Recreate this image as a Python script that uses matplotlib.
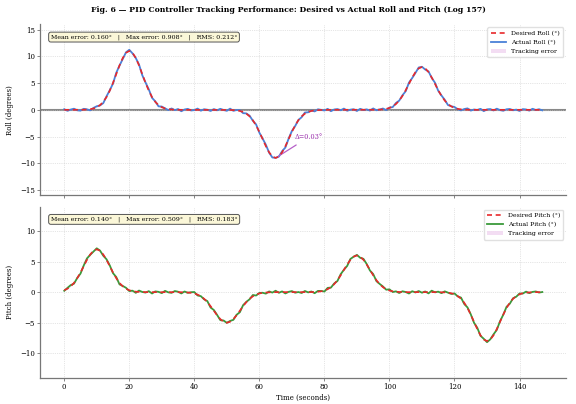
import numpy as np
import matplotlib.pyplot as plt

plt.rcParams['font.family'] = ['DejaVu Serif']

# time axis, one sample per second
t = np.arange(0, 148)

# desired roll (degrees)
roll_desired = [
    0.0, 0.0, 0.0, 0.0, 0.0, 0.0, 0.02, 0.06, 0.12, 0.25,
    0.48, 0.88, 1.49, 2.38, 3.58, 5.04, 6.67, 8.31, 9.70, 10.66,
    11.0, 10.66, 9.70, 8.31, 6.67, 5.04, 3.58, 2.38, 1.49, 0.88,
    0.48, 0.25, 0.12, 0.06, 0.02, 0.0, 0.0, 0.0, 0.0, 0.0,
    0.0, 0.0, 0.0, 0.0, 0.0, 0.0, 0.0, 0.0, 0.0, 0.0,
    0.0, -0.02, -0.05, -0.10, -0.21, -0.40, -0.72, -1.22, -1.94, -2.93,
    -4.12, -5.46, -6.80, -7.94, -8.72, -9.0, -8.72, -7.94, -6.80, -5.46,
    -4.12, -2.93, -1.94, -1.22, -0.72, -0.40, -0.21, -0.10, -0.05, -0.02,
    0.0, 0.0, 0.0, 0.0, 0.0, 0.0, 0.0, 0.0, 0.0, 0.0,
    0.0, 0.0, 0.0, 0.0, 0.0, 0.0, 0.02, 0.04, 0.09, 0.18,
    0.35, 0.64, 1.08, 1.73, 2.60, 3.67, 4.85, 6.04, 7.06, 7.75,
    8.0, 7.75, 7.06, 6.04, 4.85, 3.67, 2.60, 1.73, 1.08, 0.64,
    0.35, 0.18, 0.09, 0.04, 0.02, 0.0, 0.0, 0.0, 0.0, 0.0,
    0.0, 0.0, 0.0, 0.0, 0.0, 0.0, 0.0, 0.0, 0.0, 0.0,
    0.0, 0.0, 0.0, 0.0, 0.0, 0.0, 0.0, 0.0,
]

# actual roll minus desired roll
roll_error = [
    0.12, -0.18, 0.05, 0.21, -0.09, -0.15, 0.17, 0.03, -0.22, 0.11,
    0.19, -0.06, -0.24, 0.14, 0.08, -0.13, 0.26, -0.04, -0.19, 0.10,
    0.22, -0.11, -0.02, 0.16, -0.20, 0.07, 0.25, -0.14, 0.09, -0.23,
    0.13, 0.04, -0.17, 0.20, -0.08, 0.15, -0.26, 0.06, 0.18, -0.12,
    -0.05, 0.23, -0.16, 0.11, 0.02, -0.21, 0.14, -0.09, 0.19, -0.03,
    -0.18, 0.24, -0.13, 0.07, 0.16, -0.22, 0.05, 0.12, -0.10, 0.20,
    -0.15, 0.09, 0.27, -0.07, -0.19, 0.03, -0.02, 0.21, -0.24, 0.08,
    0.17, -0.11, 0.04, -0.16, 0.22, -0.06, 0.10, -0.20, 0.15, 0.01,
    -0.12, 0.18, -0.25, 0.06, 0.14, -0.08, 0.23, -0.17, 0.03, 0.11,
    -0.21, 0.19, -0.04, 0.09, -0.14, 0.26, -0.10, 0.02, 0.16, -0.23,
    0.07, -0.13, 0.20, -0.01, 0.12, -0.18, 0.24, -0.09, -0.15, 0.17,
    0.05, -0.22, 0.13, -0.06, 0.21, -0.11, 0.08, 0.15, -0.19, 0.03,
    0.18, -0.07, -0.20, 0.11, 0.25, -0.14, 0.06, -0.02, 0.19, -0.24,
    0.09, 0.14, -0.12, 0.22, -0.05, -0.17, 0.10, 0.16, -0.08, 0.04,
    -0.21, 0.13, 0.07, -0.15, 0.20, -0.03, 0.11, -0.09,
]

# desired pitch (degrees)
pitch_desired = [
    0.31, 0.56, 0.95, 1.51, 2.28, 3.21, 4.25, 5.29, 6.17, 6.78,
    7.0, 6.78, 6.17, 5.29, 4.25, 3.21, 2.28, 1.51, 0.95, 0.56,
    0.31, 0.16, 0.08, 0.04, 0.02, 0.0, 0.0, 0.0, 0.0, 0.0,
    0.0, 0.0, 0.0, 0.0, 0.0, 0.0, -0.01, -0.03, -0.06, -0.11,
    -0.22, -0.40, -0.68, -1.08, -1.63, -2.29, -3.03, -3.78, -4.41, -4.84,
    -5.0, -4.84, -4.41, -3.78, -3.03, -2.29, -1.63, -1.08, -0.68, -0.40,
    -0.22, -0.11, -0.06, -0.03, -0.01, 0.0, 0.0, 0.0, 0.0, 0.0,
    0.0, 0.0, 0.0, 0.0, 0.0, 0.0, 0.01, 0.03, 0.07, 0.14,
    0.26, 0.48, 0.81, 1.30, 1.95, 2.75, 3.64, 4.53, 5.29, 5.81,
    6.0, 5.81, 5.29, 4.53, 3.64, 2.75, 1.95, 1.30, 0.81, 0.48,
    0.26, 0.14, 0.07, 0.03, 0.01, 0.0, 0.0, 0.0, 0.0, 0.0,
    0.0, 0.0, 0.0, 0.0, 0.0, 0.0, -0.02, -0.04, -0.09, -0.18,
    -0.35, -0.64, -1.08, -1.73, -2.60, -3.67, -4.85, -6.04, -7.06, -7.75,
    -8.0, -7.75, -7.06, -6.04, -4.85, -3.67, -2.60, -1.73, -1.08, -0.64,
    -0.35, -0.18, -0.09, -0.04, -0.02, 0.0, 0.0, 0.0,
]

# actual pitch minus desired pitch
pitch_error = [
    -0.09, 0.14, 0.20, -0.12, 0.04, -0.18, 0.11, 0.23, -0.06, -0.15,
    0.17, 0.02, -0.21, 0.09, 0.13, -0.10, 0.19, -0.24, 0.06, 0.15,
    -0.13, 0.08, -0.19, 0.22, 0.01, -0.07, 0.16, -0.22, 0.12, 0.05,
    -0.16, 0.21, -0.03, -0.11, 0.18, 0.07, -0.20, 0.14, -0.05, 0.10,
    0.24, -0.14, 0.03, -0.09, 0.17, -0.23, 0.11, 0.06, -0.17, 0.20,
    -0.02, 0.13, -0.12, 0.08, -0.25, 0.16, 0.04, -0.08, 0.21, -0.15,
    0.09, 0.01, -0.18, 0.15, -0.06, 0.23, -0.11, 0.12, -0.21, 0.05,
    0.17, -0.09, 0.02, -0.14, 0.19, -0.04, 0.10, -0.20, 0.13, 0.06,
    -0.16, 0.22, -0.07, 0.11, -0.13, 0.18, 0.03, -0.24, 0.14, -0.01,
    0.09, -0.19, 0.16, 0.07, -0.10, 0.21, -0.15, 0.04, 0.12, -0.08,
    0.20, -0.12, 0.06, -0.17, 0.13, 0.02, -0.22, 0.15, -0.05, 0.18,
    -0.09, 0.11, -0.20, 0.24, -0.03, 0.08, -0.14, 0.17, 0.01, -0.11,
    0.14, -0.06, 0.19, -0.21, 0.10, 0.05, -0.15, 0.22, -0.08, 0.12,
    -0.18, 0.03, 0.16, -0.13, 0.09, -0.02, 0.20, -0.16, 0.07, -0.10,
    0.13, -0.05, 0.18, -0.12, 0.06, 0.11, -0.07, 0.02,
]

roll_stats = "Mean error: 0.160°   |   Max error: 0.908°   |   RMS: 0.212°"
pitch_stats = "Mean error: 0.140°   |   Max error: 0.509°   |   RMS: 0.183°"
roll_note = "Δ=0.03°"

roll_actual = np.array(roll_desired) + np.array(roll_error)
pitch_actual = np.array(pitch_desired) + np.array(pitch_error)

fig, (ax1, ax2) = plt.subplots(2, 1, figsize=(5.76, 4.04), dpi=100, sharex=True)
fig.subplots_adjust(left=0.07, right=0.983, top=0.94, bottom=0.065, hspace=0.065)

fs = 5.0
panels = [
    (ax1, roll_desired, roll_actual, "Roll", "#4a80d8", roll_stats, (-16, 16), [-15, -10, -5, 0, 5, 10, 15]),
    (ax2, pitch_desired, pitch_actual, "Pitch", "#3a9a3a", pitch_stats, (-14, 14), [-10, -5, 0, 5, 10]),
]
for ax, des, act, name, col, stats, ylim, yt in panels:
    if name == "Roll":
        ax.axhline(0, color="#888888", lw=1.5, zorder=1)
    ax.fill_between(t, des, act, color="plum", alpha=0.35, lw=0, label="Tracking error", zorder=2)
    ax.plot(t, act, color=col, lw=1.3, label=f"Actual {name} (°)", zorder=3)
    ax.plot(t, des, color="#e8292b", lw=1.2, ls=(0, (3, 2.2)), label=f"Desired {name} (°)", zorder=4)
    ax.set_ylim(*ylim)
    ax.set_yticks(yt)
    ax.set_ylabel(f"{name} (degrees)", fontsize=fs)
    ax.grid(True, ls=":", lw=0.5, color="#cccccc")
    ax.tick_params(labelsize=fs, length=2, width=0.5, pad=2, color="#555555")
    for s in ["top", "right"]:
        ax.spines[s].set_visible(False)
    for s in ["left", "bottom"]:
        ax.spines[s].set_color("#777777")
        ax.spines[s].set_linewidth(0.9)
    ax.text(0.02, 0.925, stats, transform=ax.transAxes, fontsize=4.5, va="center", ha="left",
            bbox=dict(boxstyle="round,pad=0.35", fc="#fbf7d8", ec="#555555", lw=0.7))
    h, l = ax.get_legend_handles_labels()
    order = [2, 1, 0]
    ax.legend([h[i] for i in order], [l[i] for i in order], loc="upper right", fontsize=4.5,
              framealpha=0.9, edgecolor="#dddddd", handlelength=2.5, borderpad=0.5,
              labelspacing=0.6)

ax1.annotate(roll_note, xy=(t[65], roll_desired[65]), xytext=(71, -5.4), fontsize=4.8,
             color="#9b2fae", arrowprops=dict(arrowstyle="-", color="#b660c8", lw=0.9))

ax2.set_xlabel("Time (seconds)", fontsize=fs, labelpad=1.5)
ax2.set_xticks([0, 20, 40, 60, 80, 100, 120, 140])
fig.suptitle("Fig. 6 — PID Controller Tracking Performance: Desired vs Actual Roll and Pitch (Log 157)",
             fontsize=5.6, fontweight="bold", y=0.985)

plt.savefig("out.png", dpi=100)
